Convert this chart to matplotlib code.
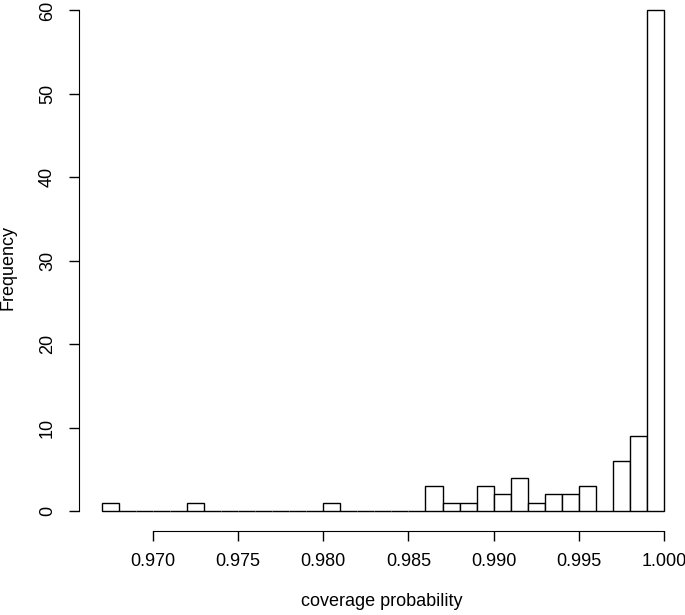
import numpy as np
import matplotlib
matplotlib.use("Agg")
import matplotlib.pyplot as plt

# histogram of coverage probabilities, bins of width 0.001
bin_start = 0.967
bin_width = 0.001
counts = [1, 0, 0, 0, 0, 1, 0, 0, 0, 0, 0, 0, 0, 1, 0, 0, 0, 0, 0,
          3, 1, 1, 3, 2, 4, 1, 2, 2, 3, 0, 6, 9, 60]
x_ticks = [0.970, 0.975, 0.980, 0.985, 0.990, 0.995, 1.000]
x_tick_labels = ["0.970", "0.975", "0.980", "0.985", "0.990", "0.995", "1.000"]
y_ticks = [0, 10, 20, 30, 40, 50, 60]

plt.rcParams["font.family"] = ["Liberation Sans", "DejaVu Sans"]
plt.rcParams["font.size"] = 13

fig = plt.figure(figsize=(6.85, 6.15), dpi=100)
ax = fig.add_axes([0.116, 0.1366, 0.886, 0.879])

lefts = bin_start + bin_width * np.arange(len(counts))
ax.bar(lefts, counts, width=bin_width, align="edge", color="white",
       edgecolor="black", linewidth=1.0)

# R-style padding of 4% on each side
x0, x1 = bin_start, bin_start + bin_width * len(counts)
dx = (x1 - x0) * 0.04
ax.set_xlim(x0 - dx, x1 + dx)
ax.set_ylim(-60 * 0.04, 60 * 1.04)

for s in ["top", "right"]:
    ax.spines[s].set_visible(False)
ax.spines["bottom"].set_bounds(x_ticks[0], x_ticks[-1])
ax.spines["left"].set_bounds(y_ticks[0], y_ticks[-1])

ax.set_xticks(x_ticks)
ax.set_xticklabels(x_tick_labels)
ax.set_yticks(y_ticks)
ax.set_yticklabels([str(v) for v in y_ticks], rotation=90, va="center")
ax.tick_params(direction="out", length=7, width=1.0)
ax.tick_params(axis="x", pad=9)
ax.tick_params(axis="y", pad=10)

fig.text(0.5 * (0.116 + 1.0), 0.008, "coverage probability", ha="center", va="bottom")
fig.text(0.0, 0.565, "Frequency", rotation=90, ha="left", va="center")

fig.savefig("out.png", dpi=100)
